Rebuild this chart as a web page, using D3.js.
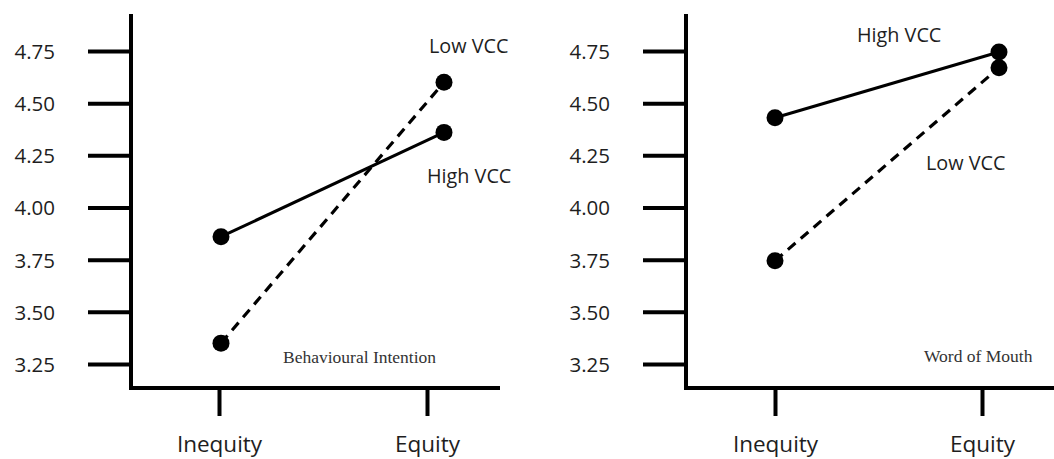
<!DOCTYPE html>
<html>
<head>
	<meta charset="utf-8">
	<title>VCC interaction plots</title>
	<script src="https://cdn.jsdelivr.net/npm/d3@7"></script>
	<style>
		body { margin: 0; background: #fff; }
		.lbl { font-family: "Open Sans", sans-serif; fill: #1e1e1e; }
		.note { font-family: "Liberation Serif", serif; fill: #333; }
	</style>
</head>
<body>
<div id="chart"></div>
<script>
	// data
	var conditions = ["Inequity", "Equity"];
	var yTicks = [3.25, 3.50, 3.75, 4.00, 4.25, 4.50, 4.75];
	var biHigh = [3.86, 4.36];
	var biLow = [3.35, 4.60];
	var womHigh = [4.43, 4.745];
	var womLow = [3.745, 4.67];
	var panelTitles = ["Behavioural Intention", "Word of Mouth"];

	var w = 1054, h = 459;
	var svg = d3.select("#chart").append("svg")
		.attr("width", w).attr("height", h);

	// y scale is shared by both panels
	var yscale = d3.scaleLinear().domain([3.25, 4.75]).range([364, 51]);
	var axisY = 388;

	var panels = [
		{ yAxisX: 131, xEnd: 500, tickRange: [219, 427], ptRange: [221, 444],
		  high: biHigh, low: biLow, title: panelTitles[0],
		  highLbl: [427, 183], lowLbl: [429, 53], titlePos: [283, 363] },
		{ yAxisX: 686, xEnd: 1060, tickRange: [775, 982], ptRange: [775, 999],
		  high: womHigh, low: womLow, title: panelTitles[1],
		  highLbl: [857, 42], lowLbl: [926, 170], titlePos: [924, 362] }
	];

	panels.forEach(function(p) {
		var g = svg.append("g");

		// y axis: long thick ticks, labels on far left
		var yAxis = d3.axisLeft(yscale)
			.tickValues(yTicks)
			.tickSize(43)
			.tickPadding(33)
			.tickFormat(d3.format(".2f"));
		var ya = g.append("g")
			.attr("transform", "translate(" + p.yAxisX + ",0)")
			.call(yAxis);
		ya.select(".domain").remove();
		ya.selectAll(".tick line").attr("stroke", "#000").attr("stroke-width", 4);
		ya.selectAll(".tick text")
			.attr("class", "lbl")
			.attr("font-size", 20.5)
			.attr("dy", "0.36em");

		// axis lines
		g.append("line")
			.attr("x1", p.yAxisX).attr("x2", p.yAxisX)
			.attr("y1", 14).attr("y2", axisY + 2)
			.attr("stroke", "#000").attr("stroke-width", 4);
		g.append("line")
			.attr("x1", p.yAxisX - 2).attr("x2", p.xEnd)
			.attr("y1", axisY).attr("y2", axisY)
			.attr("stroke", "#000").attr("stroke-width", 4);

		// x axis ticks and labels
		var xtick = d3.scalePoint().domain(conditions).range(p.tickRange);
		var xAxis = d3.axisBottom(xtick).tickSize(28).tickPadding(20);
		var xa = g.append("g")
			.attr("transform", "translate(0," + axisY + ")")
			.call(xAxis);
		xa.select(".domain").remove();
		xa.selectAll(".tick line").attr("stroke", "#000").attr("stroke-width", 4);
		xa.selectAll(".tick text")
			.attr("class", "lbl")
			.attr("font-size", 22.5)
			.attr("dy", "0.71em");

		// lines and points
		var xpt = d3.scalePoint().domain(conditions).range(p.ptRange);
		var line = d3.line()
			.x(function(d, i) { return xpt(conditions[i]); })
			.y(function(d) { return yscale(d); });

		g.append("path").datum(p.high)
			.attr("d", line).attr("fill", "none")
			.attr("stroke", "#000").attr("stroke-width", 3);
		g.append("path").datum(p.low)
			.attr("d", line).attr("fill", "none")
			.attr("stroke", "#000").attr("stroke-width", 3.2)
			.attr("stroke-dasharray", "10,7");

		[p.high, p.low].forEach(function(series) {
			g.selectAll(null).data(series).enter().append("circle")
				.attr("cx", function(d, i) { return xpt(conditions[i]); })
				.attr("cy", function(d) { return yscale(d); })
				.attr("r", 8.5)
				.attr("fill", "#000");
		});

		// series labels
		g.append("text").attr("class", "lbl")
			.attr("x", p.highLbl[0]).attr("y", p.highLbl[1])
			.attr("font-size", 19.8).text("High VCC");
		g.append("text").attr("class", "lbl")
			.attr("x", p.lowLbl[0]).attr("y", p.lowLbl[1])
			.attr("font-size", 19.8).text("Low VCC");

		g.append("text").attr("class", "note")
			.attr("x", p.titlePos[0]).attr("y", p.titlePos[1])
			.attr("font-size", 17.5).text(p.title);
	});
</script>
</body>
</html>
